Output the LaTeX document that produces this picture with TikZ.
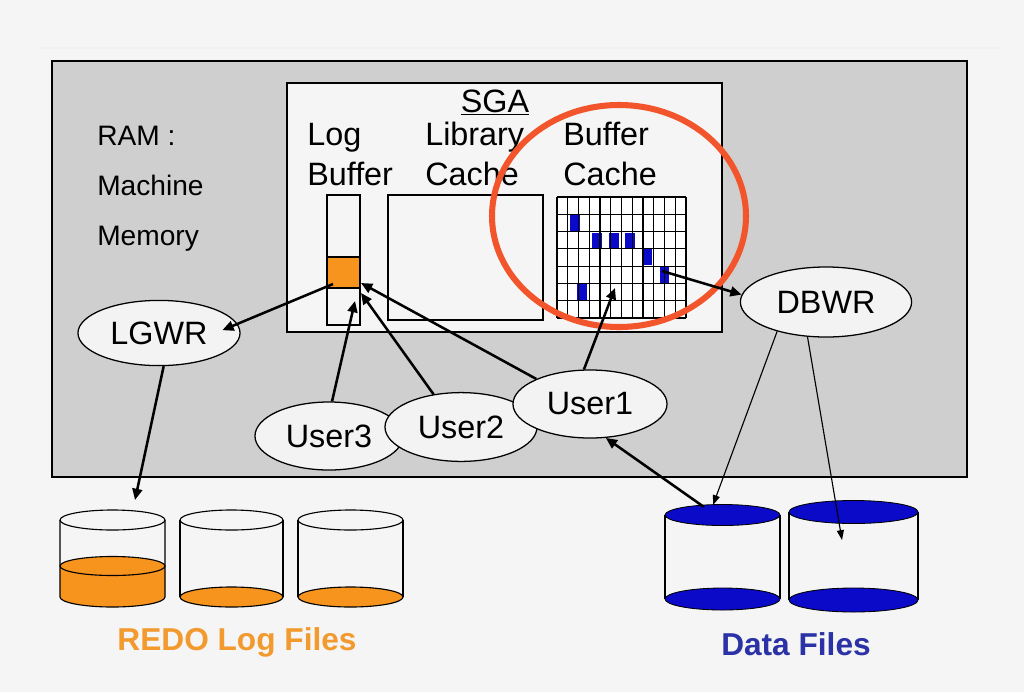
\documentclass[tikz,border=0pt]{standalone}
\usepackage{fontspec}
\setmainfont{Liberation Sans}
\usepackage{tikz}
\usetikzlibrary{shapes.geometric,arrows.meta}
\definecolor{bgcol}{HTML}{F5F5F5}
\definecolor{ramgray}{HTML}{CFCFCF}
\definecolor{ellfill}{HTML}{F3F3F3}
\definecolor{redo}{HTML}{F7941D}
\definecolor{redotext}{HTML}{F29A2E}
\definecolor{datablue}{HTML}{0A0AC8}
\definecolor{datatext}{HTML}{2B32A6}
\definecolor{ring}{HTML}{F2552B}

\begin{document}
\begin{tikzpicture}[x=0.025cm, y=-0.025cm,
    proc/.style={draw, ellipse, fill=ellfill, line width=0.9pt, inner sep=0pt, font=\fontsize{23}{27}\selectfont},
    lbl/.style={inner sep=0pt, font=\fontsize{23}{27}\selectfont},
    arr/.style={line width=1.8pt, -{Triangle[length=8pt,width=7pt]}},
    thinarr/.style={line width=0.8pt, -{Triangle[length=7pt,width=5pt]}}]
      \useasboundingbox (0,0) rectangle (1024,692);
      \fill[bgcol] (0,0) rectangle (1024,692);
      \draw[gray!12, line width=1pt] (40,48) -- (1000,48);
      % machine memory
      \draw[fill=ramgray, line width=1.2pt] (52,61) rectangle (967,477);
      \node (ram) at (97,145) [lbl, anchor=base west, font=\fontsize{20}{24}\selectfont] {RAM :};
      \node (machine) at (97,195) [lbl, anchor=base west, font=\fontsize{20}{24}\selectfont] {Machine};
      \node (memory) at (97,245) [lbl, anchor=base west, font=\fontsize{20}{24}\selectfont] {Memory};
      % SGA
      \draw[fill=bgcol, line width=1pt] (287,83) rectangle (722,332);
      \node (sga) at (495,112) [lbl, anchor=base] {\underline{SGA}};
      \node (log1) at (307,145) [lbl, anchor=base west] {Log};
      \node (log2) at (307,185) [lbl, anchor=base west] {Buffer};
      \node (lib1) at (425,145) [lbl, anchor=base west] {Library};
      \node (lib2) at (425,185) [lbl, anchor=base west] {Cache};
      \node (buf1) at (563,145) [lbl, anchor=base west] {Buffer};
      \node (buf2) at (563,185) [lbl, anchor=base west] {Cache};
      \draw[line width=0.9pt] (327,195) rectangle (360,325);
      \draw[fill=redo, line width=0.9pt] (327,257) rectangle (360,288);
      \draw[line width=0.9pt] (388,195) rectangle (543,320);
      % buffer cache blocks
      \fill[white] (557,197) rectangle (686,318);
      \fill[datablue] (570,214) rectangle (580,231);
      \fill[datablue] (592,233) rectangle (602,248);
      \fill[datablue] (609,233) rectangle (619,248);
      \fill[datablue] (625,233) rectangle (635,248);
      \fill[datablue] (642,249) rectangle (652,265);
      \fill[datablue] (660,266) rectangle (669,283);
      \fill[datablue] (577,283) rectangle (587,300);
      \foreach \i in {0,...,12}
        \draw[line width=0.8pt] (557+\i*10.75,197) -- ++(0,121);
      \foreach \j in {0,...,7}
        \draw[line width=0.8pt] (557,197+\j*17.29) -- ++(129,0);
      \draw[line width=1.6pt] (643,197) -- ++(0,121);
      \draw[ring, line width=4.3pt] (619,216) ellipse [x radius=127, y radius=111];
      % processes
      \node (lgwr) at (159,333) [proc, minimum width=4.05cm, minimum height=1.63cm] {LGWR};
      \node (dbwr) at (826,302) [proc, minimum width=4.28cm, minimum height=1.75cm] {DBWR};
      \node (user3) at (329,436) [proc, minimum width=3.7cm, minimum height=1.7cm] {User3};
      \node (user2) at (461,427) [proc, minimum width=3.8cm, minimum height=1.72cm] {User2};
      \node (user1) at (590,404) [proc, minimum width=3.85cm, minimum height=1.7cm] {User1};
      % redo log files
      \fill[redo] (60,566) -- (60,597) arc[start angle=180, end angle=0, x radius=52.5, y radius=10] -- (165,566) -- cycle;
      \draw[fill=redo, line width=0.8pt] (112.5,566) ellipse [x radius=52.5, y radius=9.5];
      \draw[line width=0.8pt] (60,520) -- (60,597) arc[start angle=180, end angle=0, x radius=52.5, y radius=10] -- (165,520);
      \draw[line width=0.8pt] (112.5,520) ellipse [x radius=52.5, y radius=10];
      \draw[line width=0.8pt] (180,520) -- (180,597) (283,520) -- (283,597);
      \draw[fill=redo, line width=0.8pt] (231.5,597) ellipse [x radius=51.5, y radius=10];
      \draw[line width=0.8pt] (231.5,520) ellipse [x radius=51.5, y radius=10];
      \draw[line width=0.8pt] (298,520) -- (298,597) (403,520) -- (403,597);
      \draw[fill=redo, line width=0.8pt] (350.5,597) ellipse [x radius=52.5, y radius=10];
      \draw[line width=0.8pt] (350.5,520) ellipse [x radius=52.5, y radius=10];
      \node (redolbl) at (237,650) [anchor=base, inner sep=0pt, text=redotext, font=\fontsize{22.5}{27}\selectfont\bfseries] {REDO Log Files};
      % data files
      \draw[line width=0.8pt] (665,515) -- (665,599) (780,515) -- (780,599);
      \draw[fill=datablue, line width=0.6pt] (722.5,599) ellipse [x radius=57.5, y radius=11];
      \draw[fill=datablue, line width=0.6pt] (722.5,515) ellipse [x radius=57.5, y radius=10.5];
      \draw[line width=0.8pt] (789,512) -- (789,600) (918,512) -- (918,600);
      \draw[fill=datablue, line width=0.6pt] (853.5,600) ellipse [x radius=64.5, y radius=12];
      \draw[fill=datablue, line width=0.6pt] (853.5,512) ellipse [x radius=64.5, y radius=11.5];
      \node (datalbl) at (796,655) [anchor=base, inner sep=0pt, text=datatext, font=\fontsize{22.5}{27}\selectfont\bfseries] {Data Files};
      % arrow ends
      \coordinate (logout) at (333,284);
      \coordinate (login3) at (355,301);
      \coordinate (login2) at (361,293);
      \coordinate (login1) at (361,283);
      \coordinate (gridin) at (615,288);
      \coordinate (gridout) at (662,271);
      \coordinate (redoin) at (135,500);
      \coordinate (datain1) at (713,505);
      \coordinate (datain2) at (842,540);
      \coordinate (dataout) at (704,507);
      \draw[arr] (logout) to ([xshift=-13pt,yshift=2pt]lgwr.east);
      \draw[arr] (lgwr.-82) to (redoin);
      \draw[arr] (user3.85) to (login3);
      \draw[arr] (user2.130) to (login2);
      \draw[arr] (user1.155) to (login1);
      \draw[arr] (user1.100) to (gridin);
      \draw[arr] (gridout) to (dbwr.175);
      \draw[arr] (dataout) to (user1.-65);
      \draw[thinarr] (dbwr.-149) to (datain1);
      \draw[thinarr] (dbwr.-118) to (datain2);
    \end{tikzpicture}
\end{document}
